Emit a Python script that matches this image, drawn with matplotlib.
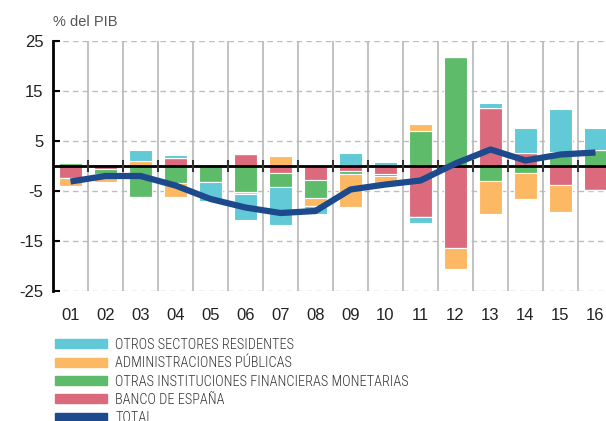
import matplotlib
matplotlib.use('Agg')
import matplotlib.pyplot as plt
from matplotlib.patches import Patch
import numpy as np

plt.rcParams['font.family'] = ['Liberation Sans', 'DejaVu Sans']

# ------------------------------------------------------------------ data
years = ['01', '02', '03', '04', '05', '06', '07', '08',
         '09', '10', '11', '12', '13', '14', '15', '16']

otros_sectores = [0.0, 0.4, 2.3, 0.6, -3.8, -5.3, -7.6, -1.6,
                  2.7, 0.9, -1.2, -0.3, 1.1, 4.9, 8.7, 4.4]
aapp = [-1.6, -1.6, 1.0, -2.9, 0.5, -0.4, 2.1, -1.6,
        -6.6, -1.4, 1.4, -4.2, -6.6, -5.2, -5.4, 0.0]
otras_ifm = [0.7, -1.0, -6.1, -3.3, -3.1, -5.1, -2.8, -3.6,
             -0.5, -0.5, 7.1, 21.8, -2.9, -1.3, 2.8, 3.3]
banco_espana = [-2.4, -0.5, 0.0, 1.6, 0.0, 2.5, -1.3, -2.7,
                -1.0, -1.5, -10.2, -16.3, 11.6, 2.7, -3.7, -4.7]
total = [-3.1, -2.0, -2.0, -3.9, -6.6, -8.3, -9.4, -9.0,
         -4.7, -3.7, -2.9, 0.5, 3.3, 1.1, 2.3, 2.7]

yticks = [25, 15, 5, -5, -15, -25]

labels = ['OTROS SECTORES RESIDENTES', 'ADMINISTRACIONES PÚBLICAS',
          'OTRAS INSTITUCIONES FINANCIERAS MONETARIAS', 'BANCO DE ESPAÑA', 'TOTAL']
c_cyan = '#62c9d6'
c_orange = '#fdb863'
c_green = '#5dbb6a'
c_red = '#db6b7c'
c_blue = '#1d4a8d'

# ------------------------------------------------------------------ figure
fig = plt.figure(figsize=(6.06, 4.21), dpi=100)
ax = fig.add_axes([53/606, 130/421, 560/606, 250/421])

x = np.arange(1, len(years) + 1)

# stacking order from zero outwards: BdE, OIFM, AAPP, otros
series = [(banco_espana, c_red), (otras_ifm, c_green),
          (aapp, c_orange), (otros_sectores, c_cyan)]
pos_base = np.zeros(len(x))
neg_base = np.zeros(len(x))
for vals, col in series:
    v = np.array(vals)
    pos = np.where(v > 0, v, 0)
    neg = np.where(v < 0, v, 0)
    ax.bar(x, pos, 0.68, bottom=pos_base, color=col, edgecolor='white', linewidth=0.8, zorder=2)
    ax.bar(x, neg, 0.68, bottom=neg_base, color=col, edgecolor='white', linewidth=0.8, zorder=2)
    pos_base += pos
    neg_base += neg

ax.plot(x, total, color=c_blue, lw=4.5, solid_joinstyle='round', solid_capstyle='butt', zorder=5)

# zero line with little ticks at the year boundaries
ax.axhline(0, color='black', lw=2, zorder=3)
bounds = np.arange(1.5, len(years) + 1, 1.0)
ax.plot(bounds, np.zeros(len(bounds)), '|', ms=9, mew=1.5, color='#333333', zorder=3)

# grid
for yv in yticks:
    ax.axhline(yv, color='#bdbdbd', lw=1, ls=(0, (4, 3)), zorder=0)
for b in bounds:
    ax.axvline(b, color='#b8b8b8', lw=1.2, zorder=0)

ax.set_xlim(0.5, 16.5)
ax.set_ylim(-25, 25)
ax.set_yticks(yticks)
ax.set_yticklabels([str(t) for t in yticks])
ax.set_xticks(x)
ax.set_xticklabels(years)
ax.tick_params(axis='x', length=0, pad=12, labelsize=12, colors='#222222')
ax.tick_params(axis='y', direction='in', length=5, width=1.5, pad=7, labelsize=12, colors='black', labelcolor='#222222')

for s in ['top', 'right', 'bottom']:
    ax.spines[s].set_visible(False)
ax.spines['left'].set_linewidth(2)

fig.text(53/606, 1 - 22/421, '% del PIB', fontsize=10.5, color='#555555', va='center', ha='left')

handles = [Patch(color=c_cyan), Patch(color=c_orange), Patch(color=c_green),
           Patch(color=c_red), Patch(color=c_blue)]
leg = fig.legend(handles, labels, loc='upper left', bbox_to_anchor=(55/606, 1 - 338/421),
                 frameon=False, handlelength=3.6, handleheight=0.6, handletextpad=0.6,
                 labelspacing=0.3, borderpad=0, borderaxespad=0,
                 prop={'family': ['Roboto Condensed', 'DejaVu Sans'], 'weight': 300, 'size': 10.3})
for t in leg.get_texts():
    t.set_color('#333333')

fig.savefig('out.png', dpi=100)
